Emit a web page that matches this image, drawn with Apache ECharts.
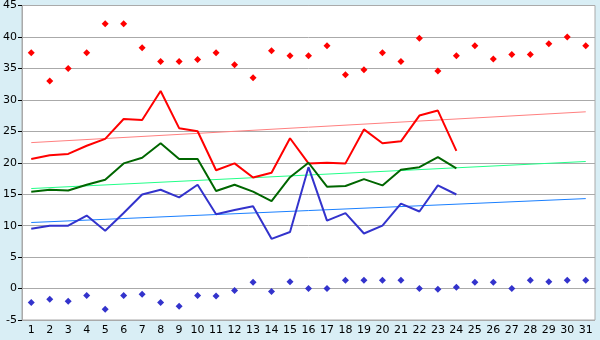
<!DOCTYPE html>
<html><head><meta charset="utf-8">
<script src="https://cdn.jsdelivr.net/npm/echarts@6/dist/echarts.min.js"></script>
<style>html,body{margin:0;padding:0;background:#d9eef5}#c{width:600px;height:340px}</style>
</head><body><div id="c"></div>
<script>
const days = ['1','2','3','4','5','6','7','8','9','10','11','12','13','14','15','16','17','18','19','20','21','22','23','24','25','26','27','28','29','30','31'];
const maxTemp = [20.6,21.2,21.4,22.7,23.8,26.95,26.8,31.4,25.5,25.0,18.8,19.9,17.65,18.4,23.9,19.9,20.0,19.9,25.3,23.1,23.4,27.5,28.3,21.9];
const meanTemp = [15.4,15.7,15.6,16.5,17.3,19.9,20.8,23.1,20.6,20.6,15.5,16.5,15.4,13.9,17.7,20.0,16.2,16.3,17.4,16.4,18.9,19.3,20.9,19.1];
const minTemp = [9.5,10.0,10.0,11.6,9.2,12.0,14.95,15.7,14.5,16.5,11.8,12.5,13.1,7.9,9.0,19.3,10.8,12.0,8.75,10.0,13.5,12.25,16.4,14.95];
const recordMax = [37.5,33.0,35.0,37.5,42.1,42.1,38.3,36.1,36.1,36.4,37.5,35.6,33.5,37.8,37.0,37.0,38.6,34.0,34.8,37.5,36.1,39.8,34.6,37.0,38.6,36.5,37.2,37.2,38.9,40.0,38.6];
const recordMin = [-2.2,-1.7,-2.0,-1.1,-3.3,-1.1,-0.9,-2.2,-2.8,-1.1,-1.2,-0.3,1.0,-0.45,1.1,0.0,0.0,1.3,1.3,1.3,1.3,0.0,-0.1,0.2,1.0,1.0,0.0,1.3,1.1,1.3,1.3];
const trendMax = [23.2, 28.1];
const trendMean = [15.9, 20.2];
const trendMin = [10.5, 14.3];
const yTicks = {min:-5, max:45, interval:5};

const chart = echarts.init(document.getElementById('c'), null, {renderer:'canvas'});
const first = days[0], last = days[days.length-1];
function trend(arr){ return [[first, arr[0]], [last, arr[1]]]; }
chart.setOption({
  animation:false,
  backgroundColor:'#d9eef5',
  textStyle:{fontFamily:'DejaVu Sans'},
  grid:{left:20,right:5,top:5,bottom:20,show:true,backgroundColor:'#ffffff',borderColor:'#aaaaaa',borderWidth:1},
  xAxis:{type:'category',data:days,boundaryGap:true,
    axisLine:{lineStyle:{color:'#aaaaaa'}},
    axisTick:{alignWithLabel:true,length:5,lineStyle:{color:'#000'}},
    axisLabel:{color:'#000',fontSize:11,margin:5,interval:0}},
  yAxis:{type:'value',min:yTicks.min,max:yTicks.max,interval:yTicks.interval,
    axisLine:{show:true,lineStyle:{color:'#aaaaaa'}},
    axisTick:{show:true,length:4,lineStyle:{color:'#000'}},
    axisLabel:{color:'#000',fontSize:11,margin:5},
    splitLine:{lineStyle:{color:'#aaaaaa'}}},
  series:[
    {type:'line',data:trend(trendMax),symbol:'none',lineStyle:{color:'#ff8080',width:1},z:1},
    {type:'line',data:trend(trendMean),symbol:'none',lineStyle:{color:'#22ff88',width:1},z:1},
    {type:'line',data:trend(trendMin),symbol:'none',lineStyle:{color:'#1a80ff',width:1},z:1},
    {type:'line',data:maxTemp,symbol:'none',lineStyle:{color:'#ff0000',width:2},z:3},
    {type:'line',data:meanTemp,symbol:'none',lineStyle:{color:'#006600',width:2},z:3},
    {type:'line',data:minTemp,symbol:'none',lineStyle:{color:'#3333cc',width:2},z:3},
    {type:'scatter',data:recordMax,symbol:'diamond',symbolSize:7,itemStyle:{color:'#ff0000',opacity:1},z:4},
    {type:'scatter',data:recordMin,symbol:'diamond',symbolSize:7,itemStyle:{color:'#3333cc',opacity:1},z:4}
  ]
});
</script></body></html>
